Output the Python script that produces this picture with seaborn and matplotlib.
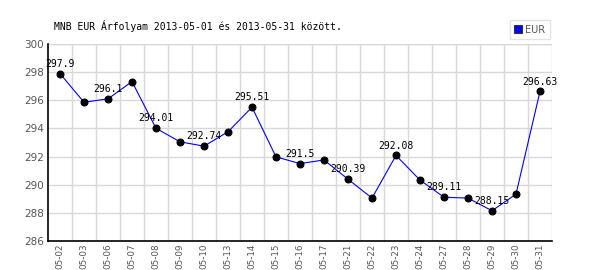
import matplotlib
matplotlib.use("Agg")
import matplotlib.pyplot as plt
import seaborn as sns
import pandas as pd
import numpy as np
from matplotlib.ticker import FixedLocator
from matplotlib.patches import Rectangle

dates = ["05-02", "05-03", "05-06", "05-07", "05-08", "05-09", "05-10", "05-13",
         "05-14", "05-15", "05-16", "05-17", "05-21", "05-22", "05-23", "05-24",
         "05-27", "05-28", "05-29", "05-30", "05-31"]
values = [297.9, 295.86, 296.1, 297.33, 294.01, 293.05, 292.74, 293.76,
          295.51, 291.98, 291.5, 291.76, 290.39, 289.05, 292.08, 290.33,
          289.11, 289.05, 288.15, 289.33, 296.63]
labeled = [True, False] * 10 + [True]
yticks = [286, 288, 290, 292, 294, 296, 298, 300]
title = "MNB EUR Árfolyam 2013-05-01 és 2013-05-31 között."
series_name = "EUR"

sns.set_style("white")
plt.rcParams['font.family'] = ['DejaVu Sans']

df = pd.DataFrame({"pos": np.arange(len(dates)), "value": values})

fig = plt.figure(figsize=(6, 2.7), dpi=100)
ax = fig.add_axes([0.08, 0.1074, 0.84, 0.7296])

sns.lineplot(data=df, x="pos", y="value", ax=ax, color="#0000ff", linewidth=0.8,
             marker="o", markersize=5, markerfacecolor="black",
             markeredgecolor="black", zorder=3)

for i, (v, lab) in enumerate(zip(values, labeled)):
    if lab:
        ax.annotate(f"{v:g}", (i, v), xytext=(0, 3.5), textcoords="offset points",
                    ha="center", va="bottom", fontsize=7,
                    family="DejaVu Sans Mono", color="black", zorder=4)

ax.set_xlim(-0.5, len(dates) - 0.5)
ax.set_ylim(286, 300)
ax.set_xticks(np.arange(len(dates)))
ax.set_xticklabels(dates, rotation=90, fontsize=6.3, color="#555555")
ax.set_yticks(yticks)
ax.set_yticklabels([str(t) for t in yticks], fontsize=7.5, color="#555555")
ax.xaxis.set_minor_locator(FixedLocator(np.arange(len(dates)) + 0.5))
ax.grid(False)
ax.grid(True, which="minor", axis="x", color="#d8d8d8", linewidth=1)
ax.grid(True, which="major", axis="y", color="#d8d8d8", linewidth=1)
ax.tick_params(axis="y", which="both", length=0, pad=3)
ax.tick_params(axis="x", which="both", length=0, pad=2)
ax.set_xlabel("")
ax.set_ylabel("")
for s in ["top", "right"]:
    ax.spines[s].set_visible(False)
for s in ["left", "bottom"]:
    ax.spines[s].set_color("black")
    ax.spines[s].set_linewidth(1.2)
ax.axhline(300, color="#d8d8d8", linewidth=1, zorder=0)

fig.text(0.09, 0.905, title, fontsize=7, family="DejaVu Sans Mono",
         ha="left", va="center", color="black")

handle = Rectangle((0, 0), 1, 1, facecolor="#0000ff", edgecolor="#333333", linewidth=0.8)
leg = fig.legend([handle], [series_name], loc="upper right",
                 bbox_to_anchor=(0.925, 0.945), fontsize=7, frameon=True,
                 fancybox=False, handlelength=0.8, handleheight=0.8,
                 handletextpad=0.3, borderpad=0.5, labelcolor="#555555")
leg.get_frame().set_edgecolor("#dddddd")
leg.get_frame().set_linewidth(1)

fig.savefig("out.png", dpi=100)
